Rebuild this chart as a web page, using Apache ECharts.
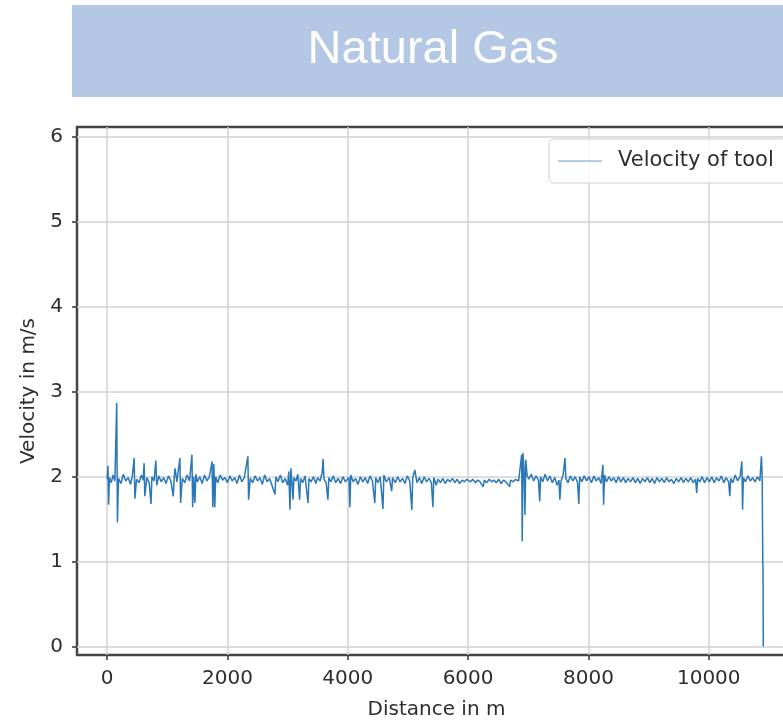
<!DOCTYPE html>
<html lang="en">
<head>
    <meta charset="UTF-8">
    <title>Natural Gas</title>
    <style>
        html, body {
            margin: 0;
            padding: 0;
            background: #fff;
            overflow: hidden;
        }
    </style>
</head>
<body>
<!-- the plot runs past the right edge of the window, like the cropped original -->
<div id="chart" style="width: 800px;height:726px;"></div>
<script src="https://cdn.jsdelivr.net/npm/echarts@6/dist/echarts.min.js"></script>
<script>

    var titleText = 'Natural Gas';
    var seriesName = 'Velocity of tool';
    var xName = 'Distance in m';
    var yName = 'Velocity in m/s';

    // [distance in m, velocity in m/s]
    var velocityProfile = [
        [0,1.97],[15,2.13],[25,1.67],[40,1.99],[70,1.93],[100,2.02],[130,1.95],[160,2.87],[172,1.46],[190,1.98],
        [230,1.92],[270,2.03],[310,1.95],[350,1.99],[390,1.91],[420,2.01],[450,2.22],[462,1.74],[490,1.97],
        [530,1.93],[570,2.02],[600,1.96],[615,2.16],[627,1.77],[660,1.99],[700,1.93],[730,1.68],[745,2.0],
        [780,1.95],[810,2.19],[825,1.9],[860,2.01],[900,1.94],[940,1.99],[980,1.92],
        [1020,2.01],[1060,1.95],[1100,1.77],[1115,1.99],[1130,2.10],[1160,1.94],[1210,2.22],[1222,1.69],
        [1250,1.98],[1290,1.93],[1330,2.02],[1370,1.95],[1410,2.26],[1422,1.64],[1440,2.0],[1460,1.69],
        [1475,2.03],[1500,1.94],
        [1540,2.0],[1580,1.92],[1620,2.02],[1660,1.95],[1700,2.0],[1745,2.18],[1757,1.64],[1775,2.15],
        [1790,1.64],[1805,2.0],[1840,1.93],[1880,2.02],[1920,1.96],[1960,1.99],
        [2000,1.93],[2040,2.01],[2080,1.95],[2120,1.99],[2160,1.92],[2200,2.02],[2240,1.94],[2280,1.99],
        [2340,2.24],[2352,1.73],[2380,1.98],[2420,1.93],[2460,2.01],[2500,1.95],
        [2540,1.99],[2580,1.91],[2620,2.02],[2660,1.94],[2700,1.98],[2740,1.9],[2790,1.79],[2805,2.0],
        [2840,1.94],[2880,2.02],[2920,1.93],[2960,1.98],[3000,1.9],
        [3020,2.06],[3040,1.61],[3055,2.1],[3075,1.92],[3090,1.73],[3105,1.99],[3140,1.95],[3170,2.03],
        [3200,1.73],[3215,1.98],[3250,1.93],[3290,2.01],[3340,1.69],[3355,1.98],[3390,1.94],[3430,2.0],
        [3470,1.92],[3500,1.99],
        [3540,1.95],[3575,2.05],[3590,2.21],[3605,1.97],[3640,1.93],[3670,1.73],[3685,1.99],[3720,1.94],
        [3760,2.01],[3800,1.93],[3840,1.98],[3880,1.92],[3920,2.0],[3960,1.94],
        [4020,1.99],[4035,1.64],[4050,2.02],[4090,1.94],[4130,1.98],[4170,1.91],[4210,2.0],[4250,1.94],
        [4290,1.99],[4330,1.92],[4370,2.01],[4410,1.95],[4450,1.69],[4465,1.99],[4500,1.93],
        [4540,2.0],[4585,1.62],[4600,2.02],[4640,1.94],[4690,1.99],[4730,1.83],[4745,1.99],[4790,1.93],
        [4830,2.0],[4870,1.94],[4910,1.98],[4950,1.92],[4990,2.01],
        [5030,1.95],[5065,1.61],[5080,1.99],[5115,2.08],[5150,1.93],[5190,1.99],[5230,1.92],[5270,2.0],
        [5310,1.94],[5350,1.98],[5390,1.93],[5415,1.64],[5430,1.99],[5470,1.9],[5500,1.97],
        [5540,1.93],[5580,1.98],[5620,1.92],[5660,1.97],[5700,1.94],[5740,1.98],[5780,1.93],[5820,1.97],
        [5860,1.92],[5900,1.96],[5940,1.94],[5980,1.97],
        [6040,1.94],[6080,1.97],[6120,1.93],[6160,1.96],[6200,1.94],[6250,1.88],[6270,1.96],[6310,1.93],
        [6350,1.97],[6390,1.94],[6430,1.96],[6470,1.93],[6510,1.97],[6550,1.92],[6590,1.96],[6630,1.94],
        [6690,1.88],[6705,1.96],[6750,1.94],[6790,1.97],[6840,1.95],[6870,1.96],
        [6890,2.26],[6900,1.24],[6912,2.28],[6930,2.1],[6945,1.55],[6960,2.2],[6980,2.02],[7010,1.97],
        [7050,2.03],[7090,1.95],[7130,2.01],[7170,1.96],[7190,1.71],[7205,2.0],[7240,1.94],[7280,2.03],
        [7320,1.95],[7360,2.01],[7400,1.93],[7440,1.99],[7480,1.9],
        [7510,1.96],[7525,1.73],[7545,1.95],[7580,2.02],[7610,2.22],[7625,1.98],[7660,1.93],[7700,2.01],
        [7740,1.95],[7780,2.0],[7820,1.93],[7840,1.68],[7855,2.0],[7890,1.94],[7930,2.01],[7970,1.95],
        [8010,2.0],[8050,1.93],[8090,2.01],[8130,1.95],[8170,1.99],[8210,1.92],[8240,2.14],[8252,1.67],
        [8268,2.02],[8300,1.94],[8340,2.0],[8380,1.95],[8420,1.99],[8460,1.93],[8500,2.0],
        [8540,1.94],[8580,1.99],[8620,1.93],[8660,1.98],[8700,1.94],[8740,1.99],[8780,1.93],[8820,1.98],
        [8860,1.92],[8900,1.98],[8940,1.94],[8980,1.99],
        [9020,1.93],[9060,1.98],[9100,1.92],[9140,1.99],[9180,1.94],[9220,1.98],[9260,1.93],[9300,1.99],
        [9340,1.94],[9380,1.97],[9420,1.92],[9460,1.98],[9500,1.94],
        [9540,1.99],[9580,1.93],[9620,1.98],[9660,1.94],[9700,1.99],[9740,1.93],[9780,1.97],[9800,1.81],
        [9815,1.98],[9850,1.94],[9890,2.0],[9930,1.93],[9970,1.99],
        [10010,1.94],[10050,2.0],[10090,1.93],[10130,1.99],[10170,1.95],[10210,2.01],[10250,1.93],[10290,1.99],
        [10330,1.94],[10350,1.77],[10365,1.98],[10400,1.93],[10440,2.02],[10480,1.95],[10520,2.0],[10550,2.18],
        [10562,1.61],[10575,1.99],[10610,1.94],[10650,2.01],[10690,1.95],[10730,1.99],[10770,1.94],[10810,2.0],
        [10850,1.95],[10875,2.24],[10888,2.0],[10898,1.0],[10902,0.9],[10906,0.0]
    ];

    var xMin = -500, xMax = 11450;
    var yMin = -0.1, yMax = 6.12;

    var myChart = echarts.init(document.getElementById('chart'));

    var tickFont = {
        fontFamily: 'DejaVu Sans',
        fontSize: 20,
        color: '#2e2e2e'
    };

    function plainNumber(v) {
        return String(Math.round(v));
    }

    var option = {
        animation: false,
        backgroundColor: '#fff',
        graphic: [{
            type: 'rect',
            left: 72,
            top: 5,
            shape: {width: 740, height: 92},
            style: {fill: '#b4c7e4'},
            z: 0
        }, {
            type: 'text',
            x: 433,
            y: 50,
            style: {
                text: titleText,
                fill: '#fff',
                font: '47px "Liberation Sans", Arial, sans-serif',
                textAlign: 'center',
                textVerticalAlign: 'middle'
            },
            z: 1
        }],
        legend: {
            left: 549,
            top: 139,
            padding: [11, 14, 11, 9],
            itemWidth: 44,
            itemHeight: 1.5,
            icon: 'rect',
            itemStyle: {color: '#9dbcdc'},
            borderColor: '#d0d0d0',
            borderWidth: 1,
            borderRadius: 5,
            backgroundColor: 'rgba(255,255,255,0.85)',
            textStyle: {
                fontFamily: 'DejaVu Sans',
                fontSize: 21,
                color: '#2e2e2e',
                lineHeight: 22,
                padding: [0, 0, 0, 11]
            },
            data: [seriesName]
        },
        grid: {
            show: true,
            left: 77,
            top: 127,
            right: 4,
            bottom: 71,
            borderColor: '#444',
            borderWidth: 2.5,
            containLabel: false
        },
        xAxis: {
            type: 'value',
            min: xMin,
            max: xMax,
            splitNumber: 6,
            name: xName,
            nameLocation: 'middle',
            nameGap: 45,
            nameTextStyle: tickFont,
            axisLine: {show: false, onZero: false},
            axisTick: {show: true, length: 5, lineStyle: {color: '#333', width: 1.5}},
            axisLabel: Object.assign({margin: 14, showMinLabel: false, showMaxLabel: false, formatter: plainNumber}, tickFont),
            splitLine: {show: true, showMinLine: false, showMaxLine: false, lineStyle: {color: '#d2d2d2', width: 1.5}}
        },
        yAxis: {
            type: 'value',
            min: yMin,
            max: yMax,
            splitNumber: 6,
            name: yName,
            nameLocation: 'middle',
            nameGap: 38,
            nameRotate: 90,
            nameTextStyle: tickFont,
            axisLine: {show: false, onZero: false},
            axisTick: {show: true, length: 5, lineStyle: {color: '#333', width: 1.5}},
            axisLabel: Object.assign({margin: 14, showMinLabel: false, showMaxLabel: false, formatter: plainNumber}, tickFont),
            splitLine: {show: true, showMinLine: false, showMaxLine: false, lineStyle: {color: '#d2d2d2', width: 1.5}}
        },
        series: [{
            name: seriesName,
            type: 'line',
            symbol: 'none',
            data: velocityProfile,
            lineStyle: {color: '#2b78b8', width: 1.5},
            itemStyle: {color: '#2b78b8'}
        }]
    };
    myChart.setOption(option);

</script>
</body>
</html>
